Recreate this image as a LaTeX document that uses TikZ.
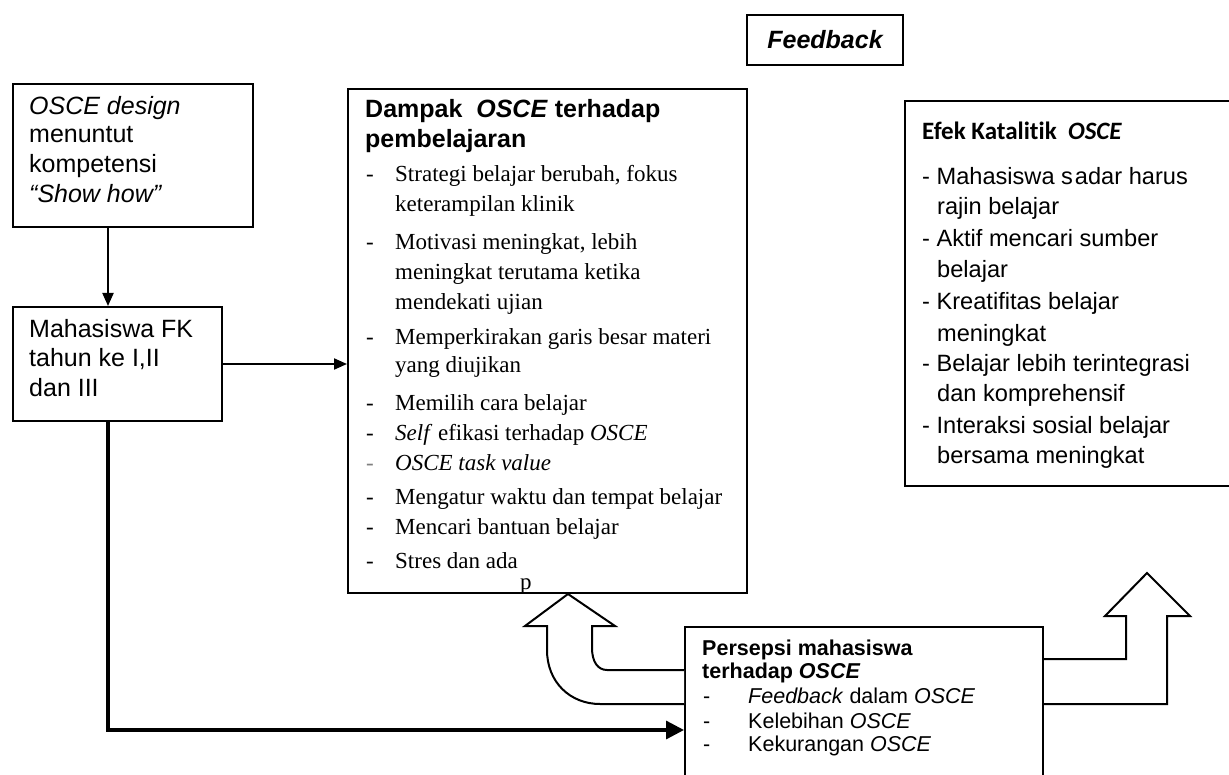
\documentclass[tikz,border=0pt]{standalone}
\usepackage{fontspec}
\setmainfont{Liberation Sans}
\newfontfamily\serifx{Liberation Serif}
\newfontfamily\carl[Ligatures={NoCommon,NoRare}]{Carlito}
\usetikzlibrary{arrows.meta}
\begin{document}
\begin{tikzpicture}[x=1pt,y=-1pt,
  box/.style={draw, line width=2pt, fill=white, inner sep=0pt, anchor=north west},
  t/.style={anchor=base west, inner sep=0pt},
  ss/.style={t, font=\fontsize{25}{30}\selectfont},
  hd/.style={t, font=\fontsize{25}{30}\selectfont\bfseries},
  tm/.style={t, font=\fontsize{23}{28}\serifx},
  ef/.style={t, font=\fontsize{23.6}{30}\selectfont},
  pp/.style={t, font=\fontsize{21.5}{26}\selectfont},
  conn/.style={line width=2pt},
  arr/.style={conn, -{Triangle[length=13pt,width=11pt]}},
  thick arr/.style={line width=3.3pt, -{Triangle[length=18pt,width=18pt]}},
  blk/.style={line width=2pt, line join=miter, fill=white}
]
\useasboundingbox (0,0) rectangle (1229,775);

% boxes
\node[box, minimum width=240pt, minimum height=143pt] (b1) at (12,83) {};
\node[box, minimum width=209pt, minimum height=114pt] (b2) at (12,306) {};
\node[box, minimum width=399pt, minimum height=504pt] (d) at (347,88) {};
\node[box, minimum width=156pt, minimum height=50pt] (fb) at (746,14) {};
\node[box, minimum width=332pt, minimum height=385pt] (ef) at (904,100) {};
\node[box, minimum width=358pt, minimum height=180pt] (per) at (684,626) {};

% Feedback
\node[inner sep=0pt, font=\fontsize{25}{30}\selectfont\bfseries\itshape] (fbt) at (fb.center) {Feedback};

% box 1 text
\node[ss] (b1a) at (29,115) {\textit{OSCE design}};
\node[ss] (b1b) at (29,143) {menuntut};
\node[ss] (b1c) at (29,173) {kompetensi};
\node[ss] (b1d) at (29,203) {\textit{\char"201C Show how\char"201D}};

% box 2 text
\node[ss] (b2a) at (29,338) {Mahasiswa FK};
\node[ss] (b2b) at (29,367) {tahun ke I,II};
\node[ss] (b2c) at (29,397) {dan III};

% Dampak
\node[hd] (dh1) at (365,118) {Dampak \ \textit{OSCE} terhadap};
\node[hd] (dh2) at (365,148) {pembelajaran};
\foreach \n/\y in {1/182,3/250,6/345,8/410,9/440,11/504,12/534,13/568}
  \node[tm] (dash\n) at (366,\y) {-};
\node[tm, text=gray] (dash10) at (366,470) {-};
\node[tm] (di1) at (395,182) {Strategi belajar berubah, fokus};
\node[tm] (di2) at (395,212) {keterampilan klinik};
\node[tm] (di3) at (395,250) {Motivasi meningkat, lebih};
\node[tm] (di4) at (395,280) {meningkat terutama ketika};
\node[tm] (di5) at (395,310) {mendekati ujian};
\node[tm] (di6) at (395,345) {Memperkirakan garis besar materi};
\node[tm] (di7) at (395,373) {yang diujikan};
\node[tm] (di8) at (395,410) {Memilih cara belajar};
\node[tm] (di9) at (395,440) {\textit{Self} efikasi terhadap \textit{OSCE}};
\node[tm] (di10) at (395,470) {\textit{OSCE task value}};
\node[tm] (di11) at (395,504) {Mengatur waktu dan tempat belajar};
\node[tm] (di12) at (395,534) {Mencari bantuan belajar};
\node[tm] (di13) at (395,568) {Stres dan ada};
\node[tm] (di14) at (520,589) {p};

% Efek
\node[t, font=\fontsize{25}{30}\carl\bfseries] (eh) at (922,140) {Efek Katalitik \ \textit{OSCE}};
\node[ef] (e1) at (922,185) {- Mahasiswa s\kern2pt adar harus};
\node[ef] (e2) at (937,215) {rajin belajar};
\node[ef] (e3) at (922,247) {- Aktif mencari sumber};
\node[ef] (e4) at (937,278) {belajar};
\node[ef] (e5) at (922,310) {- Kreatifitas belajar};
\node[ef] (e6) at (937,342) {meningkat};
\node[ef] (e7) at (922,372) {- Belajar lebih terintegrasi};
\node[ef] (e8) at (937,402) {dan komprehensif};
\node[ef] (e9) at (922,433) {- Interaksi sosial belajar};
\node[ef] (e10) at (937,463) {bersama meningkat};

% Persepsi
\node[pp, font=\fontsize{21.5}{26}\selectfont\bfseries] (ph1) at (702,655) {Persepsi mahasiswa};
\node[pp, font=\fontsize{21.5}{26}\selectfont\bfseries] (ph2) at (702,678) {terhadap \textit{OSCE}};
\node[pp] (pd1) at (703,703) {-};
\node[pp] (pd2) at (703,728) {-};
\node[pp] (pd3) at (703,751) {-};
\node[pp] (pi1) at (748,703) {\textit{Feedback} dalam \textit{OSCE}};
\node[pp] (pi2) at (748,728) {Kelebihan \textit{OSCE}};
\node[pp] (pi3) at (748,751) {Kekurangan \textit{OSCE}};

% connectors
\draw[arr] ([xshift=96pt]b1.south west) -- ([xshift=96pt]b2.north west);
\draw[arr] (b2.east) -- (b2.east -| d.west);
\coordinate (corner) at (108,730);
\draw[thick arr] ([xshift=96pt]b2.south west) -- (corner) -- (corner -| per.west);

% block arrow to Dampak
\coordinate (tipL) at ([xshift=221pt]d.south west);
\draw[blk] ([yshift=-44pt]per.north west) -- (607,670)
  .. controls (598,670) and (592,662) .. (592,648) -- (592,626) -- (615,626)
  -- (tipL) -- (525,626) -- (547,626) -- (547,650)
  .. controls (547,682) and (570,704) .. (600,704) -- ([yshift=-78pt]per.north west);

% block arrow to Efek
\coordinate (tipR) at (1147,573);
\draw[blk] ([yshift=-33pt]per.north east) -- (1126,659) -- (1126,616) -- (1105,616)
  -- (tipR) -- (1190,616) -- (1167,616) -- (1167,704) -- ([yshift=-78pt]per.north east);
\end{tikzpicture}
\end{document}
